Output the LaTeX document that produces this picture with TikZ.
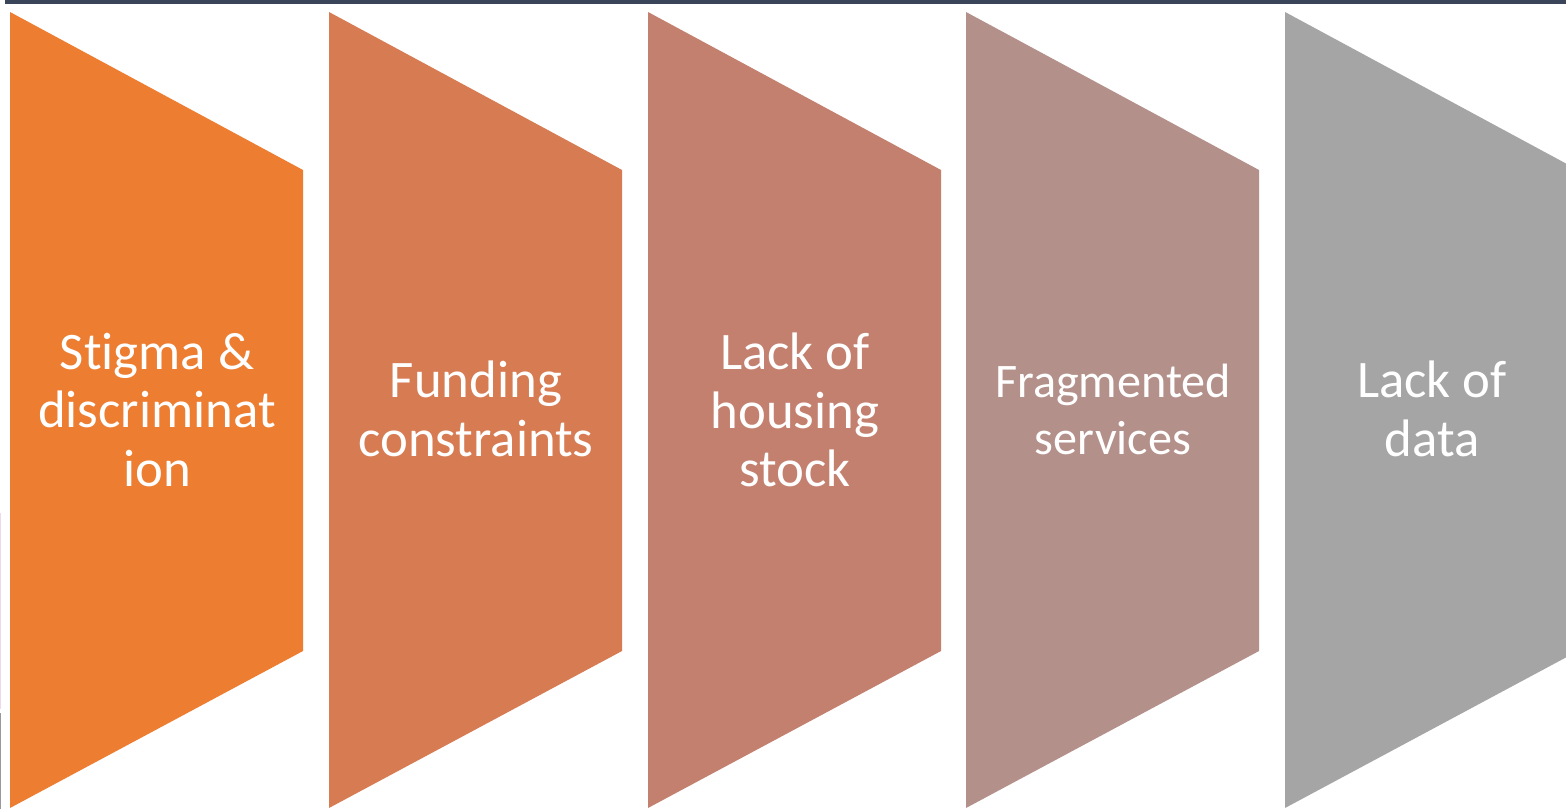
\documentclass[tikz,border=0pt]{standalone}
\usepackage{fontspec}
\setsansfont{Carlito}[Ligatures=NoCommon]
\definecolor{barrierA}{HTML}{ED7D31}
\definecolor{barrierB}{HTML}{D77B52}
\definecolor{barrierC}{HTML}{C4806F}
\definecolor{barrierD}{HTML}{B4908A}
\definecolor{barrierE}{HTML}{A5A5A5}
\definecolor{topline}{HTML}{3A4559}
\begin{document}
\begin{tikzpicture}[x=0.01cm, y=-0.01cm, font=\sffamily\fontsize{15}{16.6}\selectfont, every node/.style={text=white, align=center, inner sep=0pt, outer sep=0pt}, small label/.style={font=\sffamily\fontsize{13.7}{16.2}\selectfont}]
        \useasboundingbox (0, 0) rectangle (1566, 809);
        \clip (0, 0) rectangle (1566, 809);
        \fill[white] (0, 0) rectangle (1566, 809);
        % top rule and left edge slivers
        \fill[topline] (5, 0) rectangle (1566, 3.5);
        \fill[violet!15] (0, 513) rectangle (1.5, 709);
        \fill[gray!80] (0, 713) rectangle (1.5, 809);
        % chevrons
        \fill[barrierA] (10, 12) -- ++(293, 158) -- ++(0, 481) -- ++(-293, 157) -- cycle;
        \fill[barrierB] (329, 12) -- ++(293, 158) -- ++(0, 481) -- ++(-293, 157) -- cycle;
        \fill[barrierC] (648, 12) -- ++(293, 158) -- ++(0, 481) -- ++(-293, 157) -- cycle;
        \fill[barrierD] (966, 12) -- ++(293, 158) -- ++(0, 481) -- ++(-293, 157) -- cycle;
        \fill[barrierE] (1285, 12) -- ++(293, 158) -- ++(0, 481) -- ++(-293, 157) -- cycle;
        % labels
        \node (stigma) at (157, 410) {Stigma \&\\discriminat\\ion};
        \node (funding) at (476, 409) {Funding\\constraints};
        \node (housing) at (795, 410) {Lack of\\housing\\stock};
        \node[small label] (services) at (1113, 409) {Fragmented\\services};
        \node (data) at (1432, 409) {Lack of\\data};
    \end{tikzpicture}
\end{document}
